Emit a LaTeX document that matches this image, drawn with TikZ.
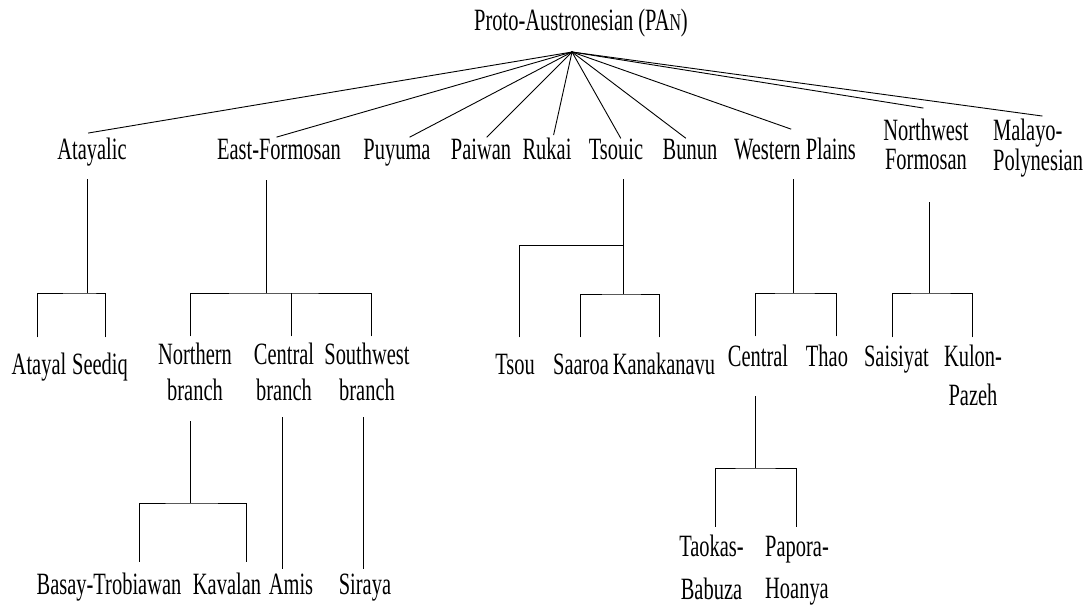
\documentclass[tikz,border=0pt]{standalone}
\usepackage{fontspec}
\setmainfont{Liberation Serif}[FakeStretch=0.66]
\newcommand{\twol}[3][0pt]{\begin{tabular}[t]{@{}c@{}}#2\\[#1]#3\end{tabular}}
\begin{document}
\begin{tikzpicture}[x=1pt,y=-1pt,
  lbl/.style={anchor=base,inner sep=0pt,font=\fontsize{31}{29}\selectfont},
  ln/.style={line width=0.9pt,line cap=rect}]
\useasboundingbox (0,0) rectangle (1089,607);

% ---------- root ----------
\node[lbl] (pan) at (581,31) {Proto-Austronesian (PA{\fontsize{24}{24}\selectfont N})};
\coordinate (r) at (572,52);

% ---------- level 1 labels ----------
\node[lbl] (atayalic) at (92,160) {Atayalic};
\node[lbl] (eastf) at (279,160) {East-Formosan};
\node[lbl] (puyuma) at (397,160) {Puyuma};
\node[lbl] (paiwan) at (481,160) {Paiwan};
\node[lbl] (rukai) at (547,160) {Rukai};
\node[lbl] (tsouic) at (616,160) {Tsouic};
\node[lbl] (bunun) at (690,160) {Bunun};
\node[lbl] (wplains) at (795,160) {Western Plains};
\node[lbl] (nwf) at (926,140) {\twol{Northwest}{Formosan}};
\node[lbl,anchor=base west] (mp) at (993,140) {\begin{tabular}[t]{@{}l@{}}Malayo-\\Polynesian\end{tabular}};

% ---------- level 1 line ends ----------
\coordinate (ata-t) at (88.5,133);
\coordinate (eas-t) at (277,137);
\coordinate (puy-t) at (410,137);
\coordinate (pai-t) at (487,137);
\coordinate (ruk-t) at (553.7,134.6);
\coordinate (tso-t) at (620.6,138);
\coordinate (bun-t) at (685.5,138);
\coordinate (wes-t) at (790.7,129);
\coordinate (nw-t) at (923,108);
\coordinate (mal-t) at (1042,116);
\foreach \e in {ata,eas,puy,pai,ruk,tso,bun,wes,nw,mal}
  \draw[ln] (r) -- (\e-t);

% ---------- Atayalic ----------
\coordinate (ata-b) at (87.6,179);
\coordinate (ata-j) at (87.6,293);
\coordinate (atayal-t) at (37.5,337);
\coordinate (seediq-t) at (105,337);
\draw[ln] (ata-b) -- (ata-j);
\draw[ln] (atayal-t) |- (ata-j) -| (seediq-t);
\node[lbl] (atayal) at (39,374) {Atayal};
\node[lbl] (seediq) at (100,374) {Seediq};

% ---------- East-Formosan ----------
\coordinate (eas-b) at (266.6,180);
\coordinate (eas-j) at (266.6,293);
\coordinate (northern-t) at (190.5,336);
\coordinate (centralb-t) at (291,336);
\coordinate (southwest-t) at (371,336);
\draw[ln] (eas-b) -- (eas-j);
\draw[ln] (northern-t) |- (eas-j) -| (southwest-t);
\draw[ln] (centralb-t) -- (centralb-t |- eas-j);
\node[lbl] (northern) at (195,364) {\twol[6pt]{Northern}{branch}};
\node[lbl] (centralb) at (284,364) {\twol[6pt]{Central}{branch}};
\node[lbl] (southwest) at (367,364) {\twol[6pt]{Southwest}{branch}};

\coordinate (nb-b) at (190.5,421);
\coordinate (nb-j) at (190.5,503);
\coordinate (basay-t) at (139,561.6);
\coordinate (kavalan-t) at (246,561.6);
\draw[ln] (nb-b) -- (nb-j);
\draw[ln] (basay-t) |- (nb-j) -| (kavalan-t);
\coordinate (cb-b) at (282.6,417);
\coordinate (amis-t) at (282.6,568.6);
\draw[ln] (cb-b) -- (amis-t);
\coordinate (sb-b) at (363,417);
\coordinate (siraya-t) at (363,568.6);
\draw[ln] (sb-b) -- (siraya-t);
\node[lbl] (basay) at (109,594) {Basay-Trobiawan};
\node[lbl] (kavalan) at (227,594) {Kavalan};
\node[lbl] (amis) at (291,594) {Amis};
\node[lbl] (siraya) at (365,594) {Siraya};

% ---------- Tsouic ----------
\coordinate (tso-b) at (623,179);
\coordinate (tso-j1) at (623,245);
\coordinate (tso-j2) at (623,294);
\coordinate (tsou-t) at (519,337);
\coordinate (saaroa-t) at (580,337);
\coordinate (kana-t) at (659.5,337);
\draw[ln] (tso-b) -- (tso-j2);
\draw[ln] (tsou-t) |- (tso-j1);
\draw[ln] (saaroa-t) |- (tso-j2) -| (kana-t);
\node[lbl] (tsou) at (515,374) {Tsou};
\node[lbl] (saaroa) at (581,374) {Saaroa};
\node[lbl] (kanakanavu) at (664,374) {Kanakanavu};

% ---------- Western Plains ----------
\coordinate (wp-b) at (793.8,179);
\coordinate (wp-j) at (793.8,293);
\coordinate (centralw-t) at (755,336);
\coordinate (thao-t) at (836,336);
\draw[ln] (wp-b) -- (wp-j);
\draw[ln] (centralw-t) |- (wp-j) -| (thao-t);
\node[lbl] (centralw) at (758,366) {Central};
\node[lbl] (thao) at (827,366) {Thao};

\coordinate (cw-b) at (755,396);
\coordinate (cw-j) at (755,468);
\coordinate (taokas-t) at (715,526.6);
\coordinate (papora-t) at (796,526.6);
\draw[ln] (cw-b) -- (cw-j);
\draw[ln] (taokas-t) |- (cw-j) -| (papora-t);
\node[lbl] (taokas) at (711.5,556) {\twol[13pt]{Taokas-}{Babuza}};
\node[lbl] (papora) at (797,556) {\twol[13pt]{Papora-}{Hoanya}};

% ---------- Northwest Formosan ----------
\coordinate (nw-b) at (929,202);
\coordinate (nw-j) at (929,293);
\coordinate (saisiyat-t) at (892,337);
\coordinate (kulon-t) at (972.5,337);
\draw[ln] (nw-b) -- (nw-j);
\draw[ln] (saisiyat-t) |- (nw-j) -| (kulon-t);
\node[lbl] (saisiyat) at (896.5,366) {Saisiyat};
\node[lbl] (kulon) at (973,366) {\twol[9pt]{Kulon-}{Pazeh}};
\end{tikzpicture}
\end{document}
